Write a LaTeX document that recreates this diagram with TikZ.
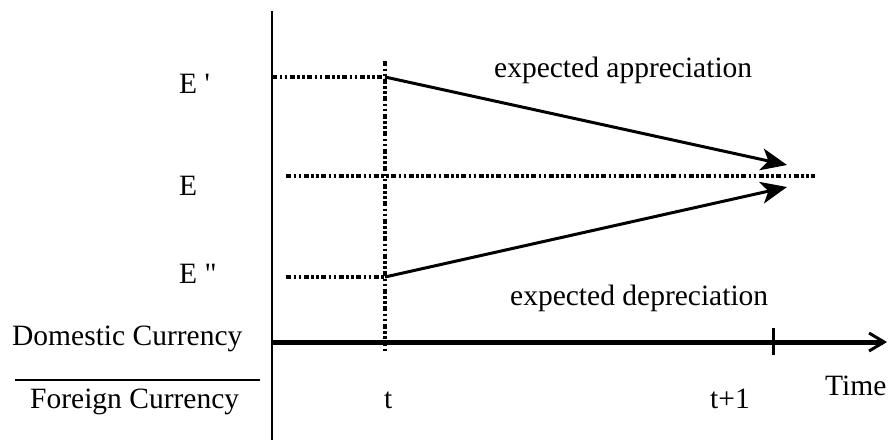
\documentclass[tikz,border=0pt]{standalone}
\usepackage{fontspec}
\setmainfont{Liberation Serif}
\usetikzlibrary{arrows.meta}

\begin{document}
\begin{tikzpicture}[x=1pt, y=-1pt,
  lbl/.style={inner sep=0pt, anchor=base west, font=\fontsize{29.5}{34}\selectfont},
  axis/.style={draw, line width=2.2pt},
  guide/.style={draw, line width=3.5pt, dash pattern=on 5pt off 2.5pt on 2.5pt off 2.5pt on 2.5pt off 2.5pt},
  move/.style={draw, line width=3pt, -{Stealth[length=26pt, width=22pt, inset=7pt]}}]
  \useasboundingbox (0,0) rectangle (889,440);

  % axes
  \coordinate (ytop) at (272,11);
  \coordinate (ybot) at (272,440);
  \coordinate (orig) at (272,342);
  \coordinate (xend) at (887,342);
  \draw[axis] (ytop) -- (ybot);
  \draw[axis, line width=5pt, -{Straight Barb[length=15pt, width=18pt, line width=3pt]}] (orig) -- (xend);

  % exchange rate levels
  \coordinate (Ep) at (385,77);
  \coordinate (Epp) at (385,277);
  \coordinate (Eleft) at (286,176);
  \coordinate (Eright) at (815,176);
  \coordinate (Ppleft) at (286,277);
  \coordinate (Pleft) at (272,77);
  \coordinate (ttop) at (385,61);
  \coordinate (tbot) at (385,353);
  \coordinate (hi) at (787,165);
  \coordinate (lo) at (787,187);
  \coordinate (t1top) at (773,328);
  \coordinate (t1bot) at (773,355);

  \draw[guide] (Pleft) -- (Ep);
  \draw[guide] (Eleft) -- (Eright);
  \draw[guide] (Ppleft) -- (Epp);
  \draw[guide] (ttop) -- (tbot);
  \draw[line width=3pt] (t1top) -- (t1bot);

  \draw[move] (Ep) -- (hi);
  \draw[move] (Epp) -- (lo);

  % labels
  \node[lbl] (lEp) at (179,93) {E \textquotesingle};
  \node[lbl] (lE) at (179,195) {E};
  \node[lbl] (lEpp) at (179,283) {E \textquotedbl};
  \node[lbl] (app) at (494,77) {expected appreciation};
  \node[lbl] (dep) at (510,305) {expected depreciation};
  \node[lbl] (dom) at (12,345) {Domestic Currency};
  \node[lbl] (for) at (30,408) {Foreign Currency};
  \coordinate (fl) at (15,380);
  \coordinate (fr) at (260,380);
  \draw[line width=2.5pt] (fl) -- (fr);
  \node[lbl] (lt) at (384,408) {t};
  \node[lbl] (lt1) at (710,408) {t+1};
  \node[lbl] (time) at (825,395) {Time};
\end{tikzpicture}
\end{document}
